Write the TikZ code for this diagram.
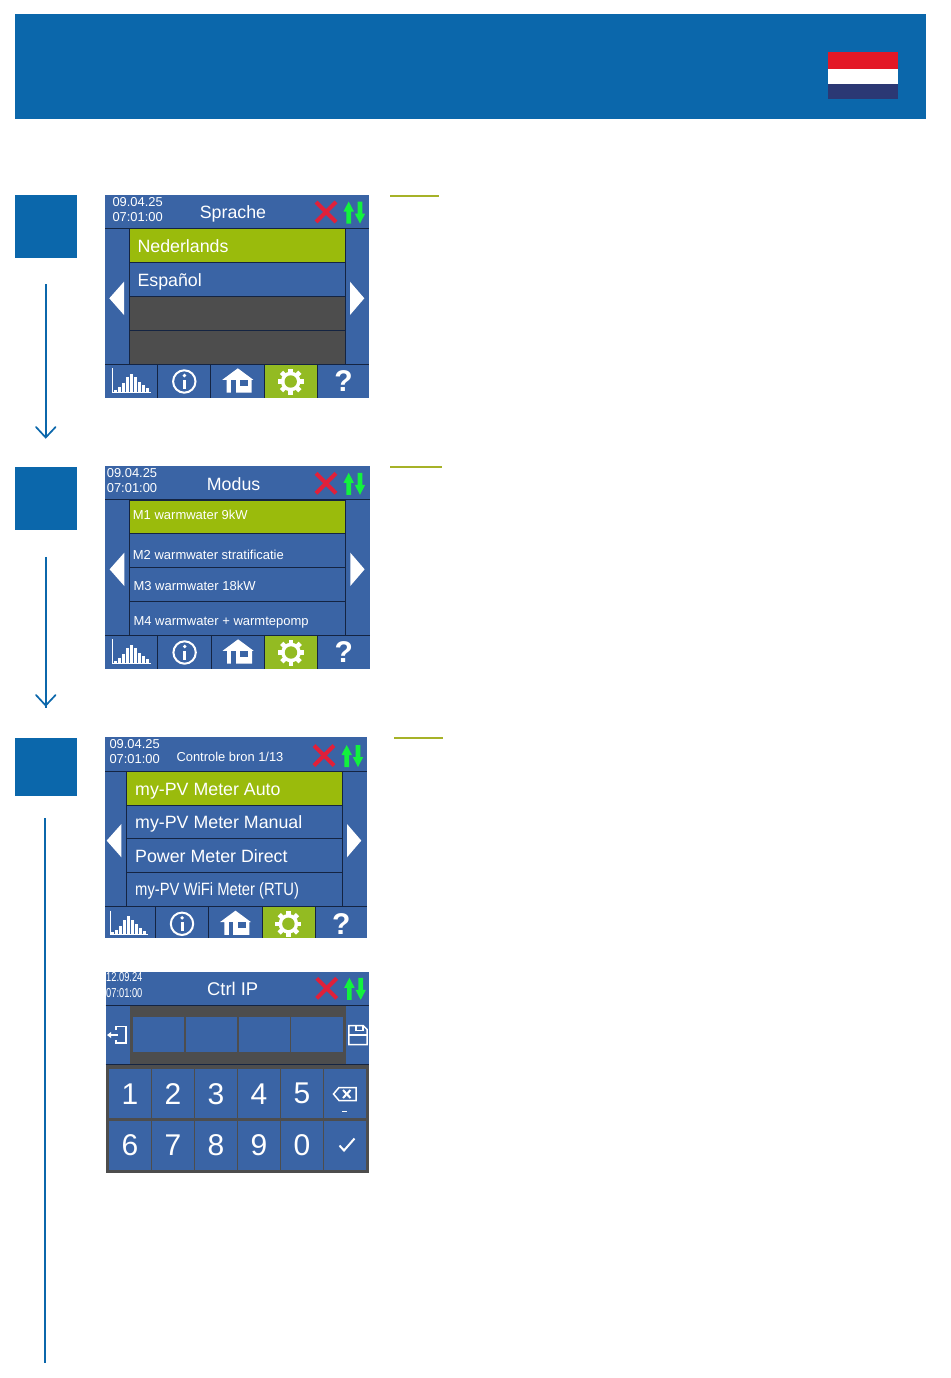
\documentclass[tikz,border=0pt]{standalone}
\usepackage{fontspec}
\setmainfont{Liberation Sans}
\definecolor{headerblue}{RGB}{11,103,171}
\definecolor{screenblue}{RGB}{58,100,165}
\definecolor{screenline}{RGB}{20,36,66}
\definecolor{rowgreen}{RGB}{154,187,12}
\definecolor{tabgreen}{RGB}{147,187,34}
\definecolor{rowdark}{RGB}{77,77,77}
\definecolor{alertred}{RGB}{224,32,58}
\definecolor{arrowgreen}{RGB}{18,242,62}
\definecolor{flagred}{RGB}{227,24,38}
\definecolor{flagblue}{RGB}{43,56,116}
\definecolor{accentgreen}{RGB}{166,178,40}
\newcommand{\textsized}[1]{\fontsize{#1}{#1}\selectfont}
\tikzset{
	screen width/.store in=\screenwidth, screen width=264.3,
	screen height/.store in=\screenheight, screen height=203,
	left column/.store in=\leftcolumn, left column=24.3,
	right column/.store in=\rightcolumn, right column=240.3,
	stepbox/.style={fill=headerblue, inner sep=0pt, minimum width=62pt, minimum height=63pt, anchor=north west},
	steparrow/.style={draw=headerblue, line width=1.7pt},
	accentline/.style={draw=accentgreen, line width=2pt},
	rowbox/.style={draw=screenline, line width=0.8pt},
	sepline/.style={draw=screenline, line width=0.8pt},
	datetext/.style={white, inner sep=0pt, anchor=base west, font=\textsized{12.9}},
	titletext/.style={white, inner sep=0pt, anchor=base, font=\textsized{17.8}},
	rowtext/.style={white, inner sep=0pt, anchor=base west, font=\textsized{17.8}},
	smalltext/.style={white, inner sep=0pt, anchor=base west, font=\textsized{13}},
	keybox/.style={fill=screenblue, text=white, inner sep=0pt, minimum width=42pt, minimum height=49pt, font=\textsized{30}},
	iconline/.style={draw=white, line width=1.5pt},
	statusicons/.pic={
		\draw[alertred, line width=4pt] (211,7) -- (231,27);
		\draw[alertred, line width=4pt] (231,7) -- (211,27);
		\fill[arrowgreen] (243.7,6.5) -- (248.9,16.5) -- (246,16.5) -- (246,28.5) -- (241.4,28.5) -- (241.4,16.5) -- (238.5,16.5) -- cycle;
		\fill[arrowgreen] (255,28.5) -- (249.8,18.5) -- (252.7,18.5) -- (252.7,6.5) -- (257.3,6.5) -- (257.3,18.5) -- (260.2,18.5) -- cycle;
	},
	menuscreen/.pic={
		\fill[screenblue] (0,0) rectangle (\screenwidth,\screenheight);
		\draw[sepline] (0,33.7) -- (\screenwidth,33.7);
		\draw[sepline] (\leftcolumn,33.7) -- (\leftcolumn,169.3);
		\draw[sepline] (\rightcolumn,33.7) -- (\rightcolumn,169.3);
		\draw[sepline] (0,169.3) -- (\screenwidth,169.3);
		\fill[white] (\leftcolumn-20,103.3) -- (\leftcolumn-5.3,86.7) -- (\leftcolumn-5.3,120) -- cycle;
		\fill[white] (\rightcolumn+19,103.3) -- (\rightcolumn+4.7,86.7) -- (\rightcolumn+4.7,120) -- cycle;
	},
	menutoolbar/.pic={
		\fill[tabgreen] (159.3,169.7) rectangle (212.3,\screenheight);
		\draw[sepline] (52.3,169.3) -- (52.3,\screenheight);
		\draw[sepline] (105.7,169.3) -- (105.7,\screenheight);
		\draw[sepline] (159.3,169.3) -- (159.3,\screenheight);
		\draw[sepline] (212.3,169.3) -- (212.3,\screenheight);
		% bar chart
		\draw[draw=white, line width=0.9pt] (7.3,173.3) -- (7.3,197.3) -- (45.7,197.3);
		\foreach \barx/\barh in {8.7/2.5, 12.7/5, 16.7/9, 20.7/15, 24.7/18.5, 28.7/15, 32.7/10.5, 36.7/7, 40.7/4}
			\fill[white] (\barx,197.3) rectangle (\barx+3,197.3-\barh);
		% info
		\draw[draw=white, line width=2pt] (79.3,186.5) circle (11.2);
		\fill[white] (77.8,184.5) rectangle (81,194);
		\fill[white] (79.4,180.5) circle (1.9);
		% house
		\fill[white] (132.8,173.3) -- (148.3,184.8) -- (146.7,184.8) -- (146.7,197.5) -- (121.7,197.5) -- (121.7,184.8) -- (117.3,184.8) -- cycle;
		\fill[screenblue] (126,185) rectangle (130.7,198);
		\fill[screenblue] (135,185) rectangle (143,190.5);
		% gear
		\foreach \toothangle in {0,45,...,315}
			\draw[draw=white, line width=4.6pt] (185.7,186.5) -- ++(\toothangle:13);
		\fill[white] (185.7,186.5) circle (9.8);
		\fill[tabgreen] (185.7,186.5) circle (6.2);
		% help
		\node[white, inner sep=0pt, font=\bfseries\textsized{30}] (helpmark) at (238.5,186.5) {?};
	},
}
\begin{document}
\begin{tikzpicture}[x=1pt, y=-1pt]
	\useasboundingbox (0,0) rectangle (950,1378);
	% banner and flag
	\fill[headerblue] (15,14.5) rectangle (925.7,118.7);
	\fill[flagred] (828,52) rectangle (897.5,68.7);
	\fill[white] (828,68.7) rectangle (897.5,84.3);
	\fill[flagblue] (828,84.3) rectangle (897.5,98.7);
	% steps
	\node[stepbox] (stepone) at (14.7,195) {};
	\node[stepbox] (steptwo) at (14.7,466.5) {};
	\node[stepbox, minimum height=58pt] (stepthree) at (14.7,738) {};
	\coordinate (stepend) at (45,1363);
	\draw[steparrow, shorten <=26pt, shorten >=30pt] (stepone) -- (steptwo);
	\draw[steparrow, shorten <=27pt, shorten >=30pt] (steptwo) -- (stepthree);
	\draw[steparrow, shorten <=22pt] (stepthree.south -| stepend) -- (stepend);
	\draw[steparrow, line cap=round] (36,427) -- (45.7,437.5) -- (55.6,427);
	\draw[steparrow, line cap=round] (36,695) -- (45.7,705.5) -- (55.6,695);
	\draw[accentline] (390,196) -- (439,196);
	\draw[accentline] (390,467) -- (442,467);
	\draw[accentline] (394,738) -- (443,738);
	% screen one
	\pic (sprachescreen) at (105,195) {menuscreen};
	\pic at (105,195) {statusicons};
	\draw[rowbox, fill=rowgreen] (129.3,228.7) rectangle (345.3,262.3);
	\draw[rowbox, fill=screenblue] (129.3,262.3) rectangle (345.3,296.3);
	\draw[rowbox, fill=rowdark] (129.3,296.3) rectangle (345.3,330);
	\draw[rowbox, fill=rowdark] (129.3,330) rectangle (345.3,364.3);
	\pic (sprachebar) at (105,195) {menutoolbar};
	\node[datetext] (spracheday) at (112.3,206.7) {09.04.25};
	\node[datetext] (sprachetime) at (112.3,221.7) {07:01:00};
	\node[titletext] (sprachetitle) at (233,218.7) {Sprache};
	\node[rowtext] (sprachenl) at (137.3,252.7) {Nederlands};
	\node[rowtext] (sprachees) at (137.3,286.7) {Español};
	% screen two
	\pic (modusscreen) at (105.3,466) {menuscreen};
	\pic at (105,466.3) {statusicons};
	\draw[rowbox, fill=rowgreen] (129.5,500) rectangle (345.3,533.5);
	\draw[rowbox, fill=screenblue] (129.5,533.5) rectangle (345.3,567.3);
	\draw[rowbox, fill=screenblue] (129.5,567.3) rectangle (345.3,601);
	\draw[rowbox, fill=screenblue] (129.5,601) rectangle (345.3,635.3);
	\pic (modusbar) at (105.3,466) {menutoolbar};
	\node[datetext] (modusday) at (106.7,477.7) {09.04.25};
	\node[datetext] (modustime) at (106.7,492.7) {07:01:00};
	\node[titletext] (modustitle) at (233.6,490) {Modus};
	\node[smalltext] (modusone) at (132.7,519.3) {M1 warmwater 9kW};
	\node[smalltext] (modustwo) at (132.7,559.3) {M2 warmwater stratificatie};
	\node[smalltext] (modusthree) at (133.3,590.3) {M3 warmwater 18kW};
	\node[smalltext] (modusfour) at (133.3,625.3) {M4 warmwater + warmtepomp};
	% screen three
	\pic[screen width=261.7, screen height=200.5, left column=21.7, right column=237.3] (bronscreen) at (105,737.3) {menuscreen};
	\pic at (103,738.5) {statusicons};
	\draw[rowbox, fill=rowgreen] (126.7,771) rectangle (342.3,805);
	\draw[rowbox, fill=screenblue] (126.7,805) rectangle (342.3,838.3);
	\draw[rowbox, fill=screenblue] (126.7,838.3) rectangle (342.3,872.3);
	\draw[rowbox, fill=screenblue] (126.7,872.3) rectangle (342.3,906.7);
	\pic[screen height=200.5] (bronbar) at (102.7,737.3) {menutoolbar};
	\node[datetext] (bronday) at (109.3,748.3) {09.04.25};
	\node[datetext] (brontime) at (109.3,763.3) {07:01:00};
	\node[titletext, font=\textsized{12.9}] (brontitle) at (230,761) {Controle bron 1/13};
	\node[rowtext] (bronauto) at (135,795) {my-PV Meter Auto};
	\node[rowtext] (bronmanual) at (135,828.7) {my-PV Meter Manual};
	\node[rowtext] (brondirect) at (135,862.3) {Power Meter Direct};
	\node[rowtext] (bronwifi) at (135,895.7) {\scalebox{0.83}[1]{my-PV WiFi Meter (RTU)}};
	% screen four
	\fill[screenblue] (105.7,972.3) rectangle (369.3,1064);
	\fill[rowdark] (105.7,1064) rectangle (369.3,1173.3);
	\fill[rowdark] (130,1005) rectangle (345.7,1064);
	\draw[sepline] (105.7,1005) -- (369.3,1005);
	\draw[sepline] (105.7,1064) -- (369.3,1064);
	\pic at (105.7,971.3) {statusicons};
	\node[datetext] (ctrlday) at (106,981.7) {\scalebox{0.72}[1]{12.09.24}};
	\node[datetext] (ctrltime) at (106,997.7) {\scalebox{0.72}[1]{07:01:00}};
	\node[titletext, font=\textsized{18.4}] (ctrltitle) at (232.7,995) {Ctrl IP};
	\fill[screenblue] (133.3,1017.3) rectangle (184.3,1052);
	\fill[screenblue] (185.7,1017.3) rectangle (236.7,1052);
	\fill[screenblue] (238.7,1017.3) rectangle (290,1052);
	\fill[screenblue] (291.3,1017.3) rectangle (342.7,1052);
	% exit and save
	\draw[iconline] (116,1030) -- (116,1026.7) -- (126,1026.7) -- (126,1043) -- (116,1043) -- (116,1040);
	\draw[iconline] (109,1035) -- (118,1035);
	\fill[white] (107,1035) -- (111,1032) -- (111,1038) -- cycle;
	\draw[iconline] (348.8,1025.5) -- (363,1025.5) -- (367.2,1029.5) -- (367.2,1044.5) -- (348.8,1044.5) -- cycle;
	\draw[iconline] (348.8,1035) -- (367.2,1035);
	\draw[iconline] (356,1025.5) -- (356,1030.5) -- (363,1030.5) -- (363,1025.5);
	% keypad
	\foreach \keylabel [count=\keyindex from 0] in {1,2,3,4,5}
		\node[keybox] (key\keylabel) at (130+\keyindex*43,1093.8) {\keylabel};
	\foreach \keylabel [count=\keyindex from 0] in {6,7,8,9,0}
		\node[keybox] (key\keylabel) at (130+\keyindex*43,1145) {\keylabel};
	\node[keybox] (keyback) at (345,1093.8) {};
	\node[keybox] (keyok) at (345,1145) {};
	\draw[iconline] (333.5,1094) -- (339,1087.5) -- (356,1087.5) -- (356,1100.5) -- (339,1100.5) -- cycle;
	\draw[draw=white, line width=2pt] (343,1090) -- (350.5,1098);
	\draw[draw=white, line width=2pt] (350.5,1090) -- (343,1098);
	\draw[iconline] (342,1111.5) -- (347,1111.5);
	\draw[draw=white, line width=2pt] (339.5,1145.5) -- (344,1150.5) -- (354.5,1138.5);
\end{tikzpicture}
\end{document}
